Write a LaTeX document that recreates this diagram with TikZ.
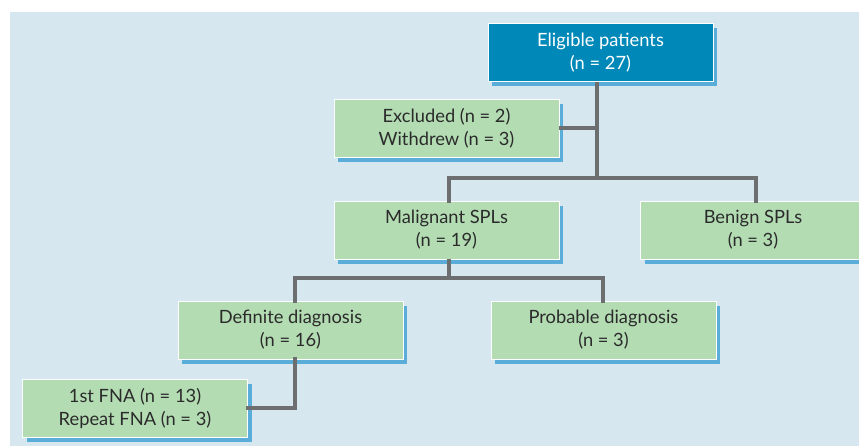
\documentclass[tikz,border=0pt]{standalone}
\usepackage{fontspec}
\setmainfont{Lato}
\usetikzlibrary{shadows}
\definecolor{bgpanel}{HTML}{D7E7F0}
\definecolor{topblue}{HTML}{0089B8}
\definecolor{boxgreen}{HTML}{B3DCB3}
\definecolor{linegray}{HTML}{6D6E70}
\definecolor{shadowblue}{HTML}{5AADD8}
\definecolor{txtdark}{HTML}{2B2B2B}
\tikzset{
  box/.style={draw=white, line width=0.8pt, minimum width=225pt, minimum height=58pt,
    align=center, font=\fontsize{18.3}{23}\selectfont, text=txtdark, fill=boxgreen,
    drop shadow={shadow xshift=4pt, shadow yshift=-5pt, fill=shadowblue, opacity=1}},
  topbox/.style={box, fill=topblue, text=white},
  conn/.style={draw=linegray, line width=4pt}
}
\begin{document}
\begin{tikzpicture}[x=1pt,y=-1pt]
\useasboundingbox (0,0) rectangle (859,446);
\fill[white] (0,0) rectangle (859,446);
\fill[bgpanel] (10,12) rectangle (859,446);
\begin{scope}
\clip (0,0) rectangle (859,446);
\node[topbox] (elig) at (600.5,52.5) {Eligible patients\\(n = 27)};
\node[box] (excl) at (446.5,128) {Excluded (n = 2)\\Withdrew (n = 3)};
\node[box] (malig) at (446.5,230) {Malignant SPLs\\(n = 19)};
\node[box] (benign) at (753,230) {Benign SPLs\\(n = 3)};
\node[box] (defin) at (290.5,330) {Definite diagnosis\\(n = 16)};
\node[box] (prob) at (603.5,330) {Probable diagnosis\\(n = 3)};
\node[box] (fna) at (135,408) {1st FNA (n = 13)\\Repeat FNA (n = 3)};
\end{scope}
\coordinate (j1) at (597,178);
\coordinate (j2) at (449,278);
\draw[conn] (elig.south -| j1) -- (j1);
\draw[conn] (excl.east) -- (excl.east -| j1);
\draw[conn, line cap=rect] (malig.north -| 449,0) |- (j1) -| (benign.north -| 756,0);
\draw[conn] (malig.south -| j2) -- (j2);
\draw[conn, line cap=rect] (defin.north -| 295,0) |- (j2) -| (prob.north -| 603,0);
\draw[conn, line cap=rect] (defin.south -| 295,0) |- (fna.east);
\end{tikzpicture}
\end{document}
